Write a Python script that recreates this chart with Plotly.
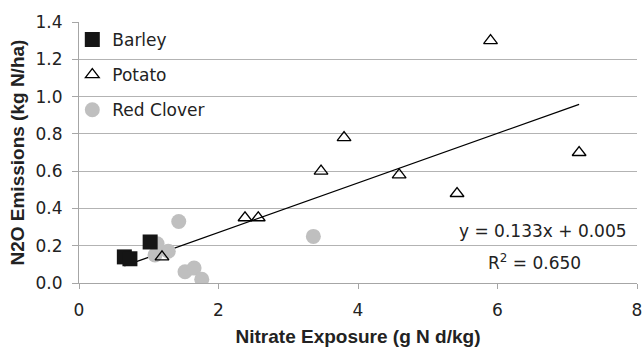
import plotly.graph_objects as go

barley_x = [0.65, 0.73, 1.02]
barley_y = [0.14, 0.13, 0.22]

potato_x = [1.19, 2.38, 2.57, 3.47, 3.80, 4.59, 5.42, 5.90, 7.17]
potato_y = [0.14, 0.35, 0.35, 0.60, 0.78, 0.58, 0.48, 1.30, 0.70]

clover_x = [1.09, 1.12, 1.28, 1.43, 1.52, 1.65, 1.76, 3.36]
clover_y = [0.15, 0.21, 0.17, 0.33, 0.06, 0.08, 0.02, 0.25]

slope, intercept = 0.133, 0.005
all_x = barley_x + potato_x + clover_x
fit_x = [min(all_x), max(all_x)]
fit_y = [slope * v + intercept for v in fit_x]

REG = "DejaVu Sans, sans-serif"
BOLD = "Liberation Sans, Arial, sans-serif"
TXT = "#222222"

fig = go.Figure()
fig.add_trace(go.Scatter(x=fit_x, y=fit_y, mode="lines", line=dict(color="black", width=1.3),
                         showlegend=False, hoverinfo="skip"))
fig.add_trace(go.Scatter(x=clover_x, y=clover_y, mode="markers", name="Red Clover",
                         marker=dict(symbol="circle", size=15, color="#bfbfbf"),
                         legendgroup="c", legendrank=3))
fig.add_trace(go.Scatter(x=potato_x, y=potato_y, mode="markers", name="Potato",
                         marker=dict(symbol="triangle-up-open", size=12, color="black",
                                     line=dict(width=1.3, color="black")),
                         legendgroup="p", legendrank=2))
fig.add_trace(go.Scatter(x=barley_x, y=barley_y, mode="markers", name="Barley",
                         marker=dict(symbol="square", size=15, color="#151515"),
                         legendgroup="b", legendrank=1))

fig.update_layout(
    width=644, height=347,
    margin=dict(l=79, r=7, t=22, b=64),
    paper_bgcolor="white", plot_bgcolor="white",
    font=dict(family=REG, size=17, color=TXT),
    legend=dict(x=-0.012, y=1.0, xanchor="left", yanchor="top", bgcolor="rgba(0,0,0,0)",
                traceorder="grouped", tracegroupgap=10, font=dict(family=REG, size=17, color=TXT),
                itemwidth=30),
    xaxis=dict(range=[0, 8], dtick=2, showgrid=False, zeroline=False, automargin=False,
               showline=True, linecolor="#a6a6a6", linewidth=1,
               ticks="outside", ticklen=5, tickcolor="#a6a6a6", ticklabelstandoff=7,
               tickfont=dict(family=REG, size=17, color=TXT),
               title=dict(text="<b>Nitrate Exposure (g N d/kg)</b>",
                          font=dict(family=BOLD, size=19, color=TXT))),
    yaxis=dict(range=[0, 1.4], dtick=0.2, tickformat=".1f", showgrid=True,
               gridcolor="#b3b3b3", gridwidth=1, zeroline=False, automargin=False,
               showline=True, linecolor="#a6a6a6", linewidth=1,
               ticks="outside", ticklen=6, tickcolor="#a6a6a6", ticklabelstandoff=6,
               tickfont=dict(family=REG, size=17, color=TXT)),
)
fig.add_annotation(x=-0.111, y=0.5, xref="paper", yref="paper", xanchor="center", yanchor="middle",
                   text="<b>N2O Emissions (kg N/ha)</b>", textangle=-90, showarrow=False,
                   font=dict(family=BOLD, size=19, color=TXT))
fig.add_annotation(x=0.9857, y=0.199, xref="paper", yref="paper", xanchor="right", yanchor="middle",
                   text="y = 0.133x + 0.005", showarrow=False,
                   font=dict(family=REG, size=17, color=TXT))
fig.add_annotation(x=0.817, y=0.08, xref="paper", yref="paper", xanchor="center", yanchor="middle",
                   text="R<sup>2</sup> = 0.650", showarrow=False,
                   font=dict(family=REG, size=17, color=TXT))

fig.write_html("out.html")
